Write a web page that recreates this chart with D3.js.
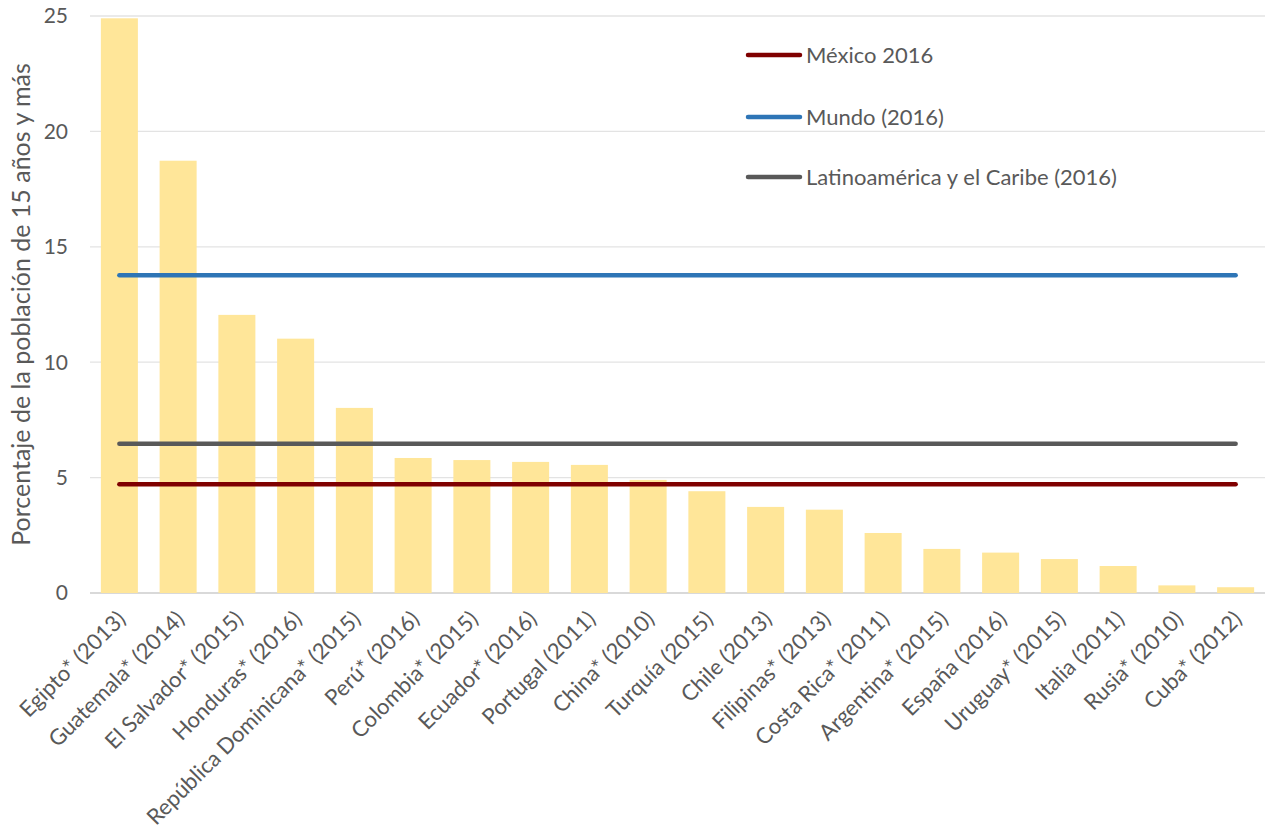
<!DOCTYPE html>
<html><head><meta charset="utf-8">
<script src="https://cdn.jsdelivr.net/npm/d3@7"></script>
<style>body{margin:0;background:#fff}svg{display:block}text{font-family:Lato,"Open Sans",sans-serif;fill:#595959}</style>
</head><body><svg id="c" width="1270" height="838"></svg>
<script>
const categories = ["Egipto* (2013)","Guatemala* (2014)","El Salvador* (2015)","Honduras* (2016)","República Dominicana* (2015)","Perú* (2016)","Colombia* (2015)","Ecuador* (2016)","Portugal (2011)","China* (2010)","Turquía (2015)","Chile (2013)","Filipinas* (2013)","Costa Rica* (2011)","Argentina* (2015)","España (2016)","Uruguay* (2015)","Italia (2011)","Rusia* (2010)","Cuba* (2012)"];
const values = [24.9,18.73,12.05,11.02,8.02,5.85,5.76,5.68,5.55,4.9,4.41,3.73,3.61,2.6,1.91,1.75,1.47,1.17,0.33,0.25];
const refNames = ["México 2016","Mundo (2016)","Latinoamérica y el Caribe (2016)"];
const refValues = [4.71,13.77,6.47];
const refColors = ["#7F0000","#2E75B6","#595959"];
const yTicks = [0,5,10,15,20,25];
const yTitle = "Porcentaje de la población de 15 años y más";

const svg = d3.select("#c");
const L=90,R=1265,T=16,B=593;
const x = d3.scaleBand().domain(categories).range([L,R]).paddingInner(0.37).paddingOuter(0.185);
const y = d3.scaleLinear().domain([0,25]).range([B,T]);

// gridlines
svg.append("g").selectAll("line").data(yTicks).join("line")
  .attr("x1",L).attr("x2",R).attr("y1",d=>y(d)).attr("y2",d=>y(d))
  .attr("stroke",d=>d===0?"#D9D9D9":"#E3E3E3").attr("stroke-width",d=>d===0?2:1.3);

// y tick labels
svg.append("g").selectAll("text").data(yTicks).join("text")
  .attr("x",68).attr("y",d=>y(d)).attr("dy","0.35em").attr("text-anchor","end")
  .attr("font-size",21).text(d=>d);

// bars
svg.append("g").selectAll("rect").data(values).join("rect")
  .attr("x",(d,i)=>x(categories[i])).attr("width",x.bandwidth())
  .attr("y",d=>y(d)).attr("height",d=>B-y(d)).attr("fill","#FFE699");

// reference lines
const xc = c=>x(c)+x.bandwidth()/2;
const x0 = xc(categories[0]), x1 = xc(categories[categories.length-1]);
svg.append("g").selectAll("line").data(refValues).join("line")
  .attr("x1",x0).attr("x2",x1).attr("y1",d=>y(d)).attr("y2",d=>y(d))
  .attr("stroke",(d,i)=>refColors[i]).attr("stroke-width",4.5).attr("stroke-linecap","round");

// category labels
svg.append("g").selectAll("text").data(categories).join("text")
  .attr("transform",c=>`translate(${xc(c)+2},${B+22}) rotate(-45)`)
  .attr("text-anchor","end").attr("dy","0.35em").attr("font-size",22).text(c=>c);

// y title
svg.append("text").attr("transform",`translate(30,${(T+B)/2}) rotate(-90)`)
  .attr("text-anchor","middle").attr("font-size",25).text(yTitle);

// legend
const lg = svg.append("g");
const ly = [55,117,177];
refNames.forEach((n,i)=>{
  lg.append("line").attr("x1",748).attr("x2",800).attr("y1",ly[i]).attr("y2",ly[i])
    .attr("stroke",refColors[i]).attr("stroke-width",4.5).attr("stroke-linecap","round");
  lg.append("text").attr("x",806).attr("y",ly[i]).attr("dy","0.35em").attr("font-size",22).text(n);
});
</script></body></html>
